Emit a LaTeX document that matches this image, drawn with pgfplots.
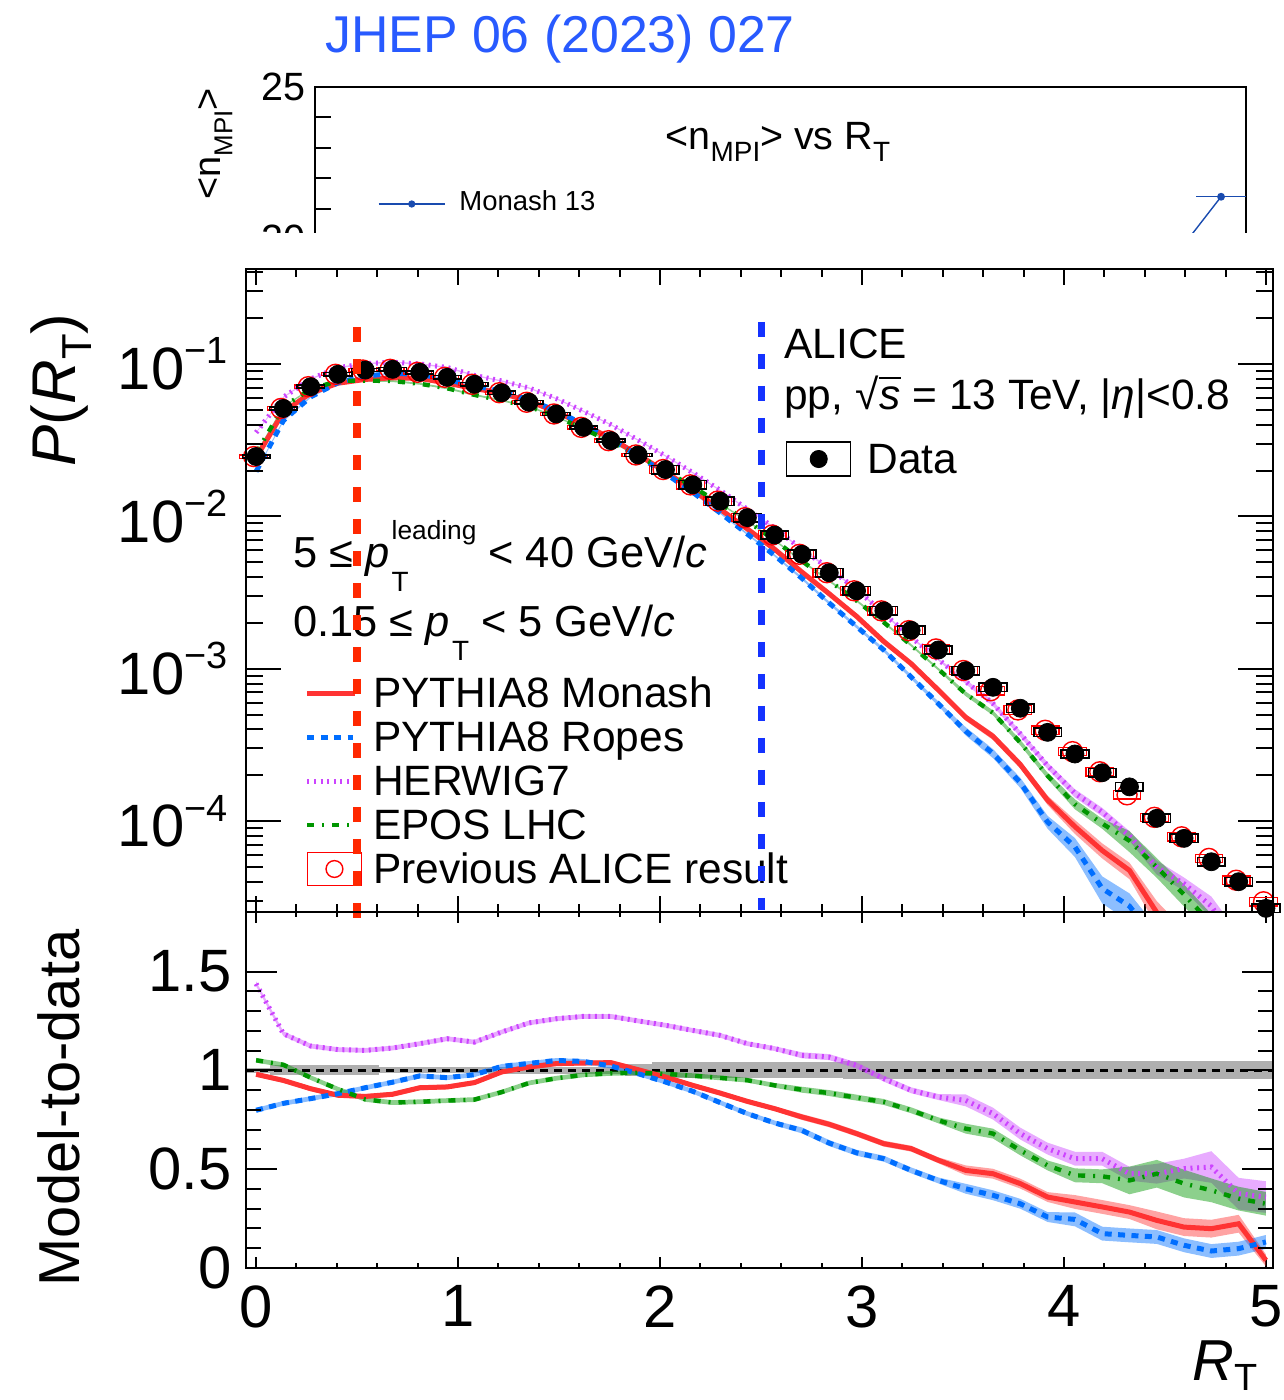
\documentclass[border=0pt]{standalone}
\usepackage{fontspec}
\setmainfont{Liberation Sans}
\usepackage{pgfplots}
\pgfplotsset{compat=1.18}
\usepackage{pgfplotstable}

\definecolor{cMon}{RGB}{255,51,51}
\definecolor{cRop}{RGB}{0,110,255}
\definecolor{cHer}{RGB}{204,68,255}
\definecolor{cEpo}{RGB}{0,150,0}
\definecolor{cLow}{RGB}{255,40,0}
\definecolor{cHigh}{RGB}{20,50,255}
\definecolor{cSys}{RGB}{175,175,175}
\definecolor{cJhep}{RGB}{40,90,255}
\definecolor{cMpi}{RGB}{25,75,175}

% systematic-uncertainty boxes (one bin wide)
\pgfdeclareplotmark{sysS}{\pgfpathrectangle{\pgfpoint{-6.9bp}{-0.8bp}}{\pgfpoint{13.8bp}{1.6bp}}\pgfusepathqstroke}
\pgfdeclareplotmark{sysL}{\pgfpathrectangle{\pgfpoint{-6.9bp}{-2.1bp}}{\pgfpoint{13.8bp}{4.2bp}}\pgfusepathqstroke}

% x: R_T bin centre, xp: previous result bin centre, d: data, p: previous ALICE result,
% s: data uncertainty on the ratio
\pgfplotstableread{
x xp d p s
0.0000 -0.012 0.0247 0.0247 0.012
0.1351 0.1231 0.0511 0.0511 0.025
0.2703 0.2583 0.0710 0.0710 0.025
0.4054 0.3934 0.0856 0.0856 0.025
0.5405 0.5285 0.0913 0.0913 0.025
0.6757 0.6637 0.0923 0.0923 0.015
0.8108 0.7988 0.0882 0.0882 0.015
0.9459 0.9339 0.0818 0.0818 0.015
1.0811 1.0691 0.0736 0.0736 0.015
1.2162 1.2042 0.0648 0.0648 0.017
1.3514 1.3394 0.0561 0.0561 0.017
1.4865 1.4745 0.0470 0.0470 0.017
1.6216 1.6096 0.0384 0.0384 0.017
1.7568 1.7448 0.0314 0.0314 0.017
1.8919 1.8799 0.0253 0.0253 0.030
2.0270 2.0150 0.0203 0.0203 0.040
2.1622 2.1502 0.0161 0.0161 0.040
2.2973 2.2853 0.0126 0.0126 0.040
2.4324 2.4204 0.00981 0.00981 0.040
2.5676 2.5556 0.00755 0.00755 0.040
2.7027 2.6907 0.00564 0.00564 0.040
2.8378 2.8258 0.00427 0.00427 0.040
2.9730 2.9610 0.00325 0.00325 0.045
3.1081 3.0961 0.00240 0.00240 0.045
3.2432 3.2312 0.00179 0.00178 0.045
3.3784 3.3664 0.00133 0.00135 0.045
3.5135 3.5015 0.000972 0.000975 0.045
3.6486 3.6366 0.000756 0.000718 0.045
3.7838 3.7718 0.000551 0.000537 0.045
3.9189 3.9069 0.000383 0.000395 0.045
4.0541 4.0421 0.000276 0.000286 0.045
4.1892 4.1772 0.000208 0.000211 0.045
4.3243 4.3123 0.000168 0.000149 0.045
4.4595 4.4475 0.0001045 0.000106 0.045
4.5946 4.5826 0.0000772 0.000079 0.045
4.7297 4.7177 0.0000542 0.000057 0.045
4.8649 4.8529 0.0000401 0.000041 0.045
5.0000 4.9880 0.0000268 0.0000296 0.045
}\rt

% model-to-data ratios (rm Monash, rr Ropes, rh HERWIG7, re EPOS LHC) with their
% uncertainties; rows 0-37 run up in R_T, rows 38-75 run back down with the
% uncertainty negated, so that one path outlines each band
\pgfplotstableread{
x d rm em rr er rh eh re ee
0.0000 0.0247 0.980 0.012 0.798 0.012 1.438 0.012 1.051 0.012
0.1351 0.0511 0.949 0.012 0.833 0.012 1.185 0.012 1.028 0.012
0.2703 0.0710 0.907 0.012 0.857 0.012 1.123 0.012 0.963 0.012
0.4054 0.0856 0.874 0.012 0.882 0.012 1.105 0.012 0.905 0.012
0.5405 0.0913 0.868 0.012 0.912 0.012 1.101 0.012 0.853 0.012
0.6757 0.0923 0.879 0.012 0.940 0.012 1.113 0.012 0.837 0.012
0.8108 0.0882 0.912 0.012 0.972 0.012 1.135 0.012 0.841 0.012
0.9459 0.0818 0.916 0.012 0.963 0.012 1.160 0.012 0.847 0.012
1.0811 0.0736 0.938 0.012 0.978 0.012 1.143 0.012 0.852 0.012
1.2162 0.0648 0.992 0.012 1.020 0.012 1.194 0.012 0.890 0.012
1.3514 0.0561 1.017 0.012 1.035 0.012 1.240 0.012 0.936 0.012
1.4865 0.0470 1.034 0.012 1.050 0.012 1.261 0.012 0.960 0.012
1.6216 0.0384 1.037 0.012 1.045 0.012 1.273 0.012 0.977 0.012
1.7568 0.0314 1.039 0.012 1.022 0.012 1.273 0.012 0.985 0.012
1.8919 0.0253 1.003 0.012 0.983 0.012 1.250 0.012 0.988 0.012
2.0270 0.0203 0.966 0.012 0.941 0.012 1.228 0.012 0.982 0.012
2.1622 0.0161 0.924 0.012 0.894 0.012 1.202 0.012 0.973 0.012
2.2973 0.0126 0.885 0.012 0.837 0.012 1.177 0.012 0.962 0.012
2.4324 0.00981 0.843 0.012 0.781 0.012 1.135 0.012 0.950 0.012
2.5676 0.00755 0.806 0.012 0.734 0.012 1.110 0.012 0.924 0.012
2.7027 0.00564 0.764 0.015 0.696 0.015 1.076 0.015 0.902 0.015
2.8378 0.00427 0.727 0.015 0.632 0.015 1.067 0.015 0.885 0.015
2.9730 0.00325 0.680 0.015 0.583 0.015 1.025 0.015 0.862 0.015
3.1081 0.00240 0.629 0.015 0.553 0.015 0.958 0.015 0.840 0.015
3.2432 0.00179 0.604 0.015 0.494 0.015 0.899 0.015 0.798 0.015
3.3784 0.00133 0.545 0.015 0.443 0.015 0.865 0.015 0.747 0.015
3.5135 0.000972 0.494 0.025 0.401 0.025 0.848 0.030 0.705 0.025
3.6486 0.000756 0.477 0.025 0.368 0.025 0.781 0.030 0.680 0.025
3.7838 0.000551 0.427 0.025 0.325 0.025 0.680 0.030 0.595 0.025
3.9189 0.000383 0.359 0.025 0.258 0.025 0.604 0.030 0.519 0.025
4.0541 0.000276 0.334 0.035 0.246 0.035 0.553 0.035 0.469 0.035
4.1892 0.000208 0.309 0.035 0.174 0.035 0.553 0.035 0.464 0.035
4.3243 0.000168 0.283 0.035 0.165 0.035 0.477 0.035 0.443 0.070
4.4595 0.0001045 0.241 0.045 0.157 0.035 0.477 0.050 0.477 0.070
4.5946 0.0000772 0.207 0.045 0.115 0.035 0.503 0.050 0.427 0.070
4.7297 0.0000542 0.199 0.045 0.086 0.035 0.511 0.080 0.393 0.060
4.8649 0.0000401 0.224 0.045 0.098 0.035 0.376 0.080 0.351 0.060
5.0000 0.0000268 0.039 0.030 0.132 0.035 0.359 0.080 0.325 0.060
5.0000 0.0000268 0.039 -0.030 0.132 -0.035 0.359 -0.080 0.325 -0.060
4.8649 0.0000401 0.224 -0.045 0.098 -0.035 0.376 -0.080 0.351 -0.060
4.7297 0.0000542 0.199 -0.045 0.086 -0.035 0.511 -0.080 0.393 -0.060
4.5946 0.0000772 0.207 -0.045 0.115 -0.035 0.503 -0.050 0.427 -0.070
4.4595 0.0001045 0.241 -0.045 0.157 -0.035 0.477 -0.050 0.477 -0.070
4.3243 0.000168 0.283 -0.035 0.165 -0.035 0.477 -0.035 0.443 -0.070
4.1892 0.000208 0.309 -0.035 0.174 -0.035 0.553 -0.035 0.464 -0.035
4.0541 0.000276 0.334 -0.035 0.246 -0.035 0.553 -0.035 0.469 -0.035
3.9189 0.000383 0.359 -0.025 0.258 -0.025 0.604 -0.030 0.519 -0.025
3.7838 0.000551 0.427 -0.025 0.325 -0.025 0.680 -0.030 0.595 -0.025
3.6486 0.000756 0.477 -0.025 0.368 -0.025 0.781 -0.030 0.680 -0.025
3.5135 0.000972 0.494 -0.025 0.401 -0.025 0.848 -0.030 0.705 -0.025
3.3784 0.00133 0.545 -0.015 0.443 -0.015 0.865 -0.015 0.747 -0.015
3.2432 0.00179 0.604 -0.015 0.494 -0.015 0.899 -0.015 0.798 -0.015
3.1081 0.00240 0.629 -0.015 0.553 -0.015 0.958 -0.015 0.840 -0.015
2.9730 0.00325 0.680 -0.015 0.583 -0.015 1.025 -0.015 0.862 -0.015
2.8378 0.00427 0.727 -0.015 0.632 -0.015 1.067 -0.015 0.885 -0.015
2.7027 0.00564 0.764 -0.015 0.696 -0.015 1.076 -0.015 0.902 -0.015
2.5676 0.00755 0.806 -0.012 0.734 -0.012 1.110 -0.012 0.924 -0.012
2.4324 0.00981 0.843 -0.012 0.781 -0.012 1.135 -0.012 0.950 -0.012
2.2973 0.0126 0.885 -0.012 0.837 -0.012 1.177 -0.012 0.962 -0.012
2.1622 0.0161 0.924 -0.012 0.894 -0.012 1.202 -0.012 0.973 -0.012
2.0270 0.0203 0.966 -0.012 0.941 -0.012 1.228 -0.012 0.982 -0.012
1.8919 0.0253 1.003 -0.012 0.983 -0.012 1.250 -0.012 0.988 -0.012
1.7568 0.0314 1.039 -0.012 1.022 -0.012 1.273 -0.012 0.985 -0.012
1.6216 0.0384 1.037 -0.012 1.045 -0.012 1.273 -0.012 0.977 -0.012
1.4865 0.0470 1.034 -0.012 1.050 -0.012 1.261 -0.012 0.960 -0.012
1.3514 0.0561 1.017 -0.012 1.035 -0.012 1.240 -0.012 0.936 -0.012
1.2162 0.0648 0.992 -0.012 1.020 -0.012 1.194 -0.012 0.890 -0.012
1.0811 0.0736 0.938 -0.012 0.978 -0.012 1.143 -0.012 0.852 -0.012
0.9459 0.0818 0.916 -0.012 0.963 -0.012 1.160 -0.012 0.847 -0.012
0.8108 0.0882 0.912 -0.012 0.972 -0.012 1.135 -0.012 0.841 -0.012
0.6757 0.0923 0.879 -0.012 0.940 -0.012 1.113 -0.012 0.837 -0.012
0.5405 0.0913 0.868 -0.012 0.912 -0.012 1.101 -0.012 0.853 -0.012
0.4054 0.0856 0.874 -0.012 0.882 -0.012 1.105 -0.012 0.905 -0.012
0.2703 0.0710 0.907 -0.012 0.857 -0.012 1.123 -0.012 0.963 -0.012
0.1351 0.0511 0.949 -0.012 0.833 -0.012 1.185 -0.012 1.028 -0.012
0.0000 0.0247 0.980 -0.012 0.798 -0.012 1.438 -0.012 1.051 -0.012
}\mt

\pgfplotsset{
  rootframe/.style={scale only axis, xmin=-0.05, xmax=5.035, tick align=inside,
    axis line style={line width=1.1bp}, tick style={black, line width=1bp},
    tick label style={font=\fontsize{30}{30}\selectfont}},
  fwd/.style={forget plot, skip coords between index={38}{76}},
  monL/.style={fwd, cMon, line width=2.5bp},
  ropL/.style={fwd, cRop, line width=2.5bp, dash pattern=on 3.5bp off 3.2bp},
  herL/.style={fwd, cHer, line width=2.5bp, dash pattern=on 1bp off 2.3bp},
  epoL/.style={fwd, cEpo, line width=2.2bp, dash pattern=on 3.5bp off 4bp on 1bp off 4bp},
  band/.style={fill=#1, fill opacity=0.45, draw=none, forget plot},
}

\newcommand\subT{\raisebox{-12bp}{\fontsize{14}{14}\selectfont T}}

\begin{document}
\begin{tikzpicture}
\path[use as bounding box] (0,0) rectangle (642bp,-700bp);

% ---------- inset: <n_MPI> vs R_T ----------
\begin{axis}[scale only axis, at={(157.5bp,-127.1bp)}, anchor=south west,
  width=465.5bp, height=83.6bp, xmin=0, xmax=5, ymin=19.5, ymax=25,
  xtick=\empty, ytick={20,25}, yticklabels={20,25}, minor y tick num=4,
  ytick pos=left, tick align=inside, major tick length=15bp, minor tick length=8bp,
  axis line style={line width=1bp}, tick style={black, line width=0.9bp},
  yticklabel style={font=\fontsize{19.8}{20}\selectfont, inner sep=0pt, xshift=-4.5bp},
  legend style={at={(0.0677,0.378)}, anchor=north west, draw=none, fill=none,
    inner sep=0pt, outer sep=0pt, column sep=7bp, font=\fontsize{13.8}{14}\selectfont,
    nodes={inner sep=0pt, text height=10bp, text depth=3bp}},
  legend cell align=left]
\addplot[cMpi, line width=0.7bp, mark=*, mark size=1.6bp, forget plot,
  error bars/.cd, x dir=both, x explicit, error mark=none,
  error bar style={line width=0.7bp}]
  coordinates {(4.595,19.25) +- (0.135,0) (4.866,21.39) +- (0.134,0)};
\addlegendimage{legend image code/.code={\draw[cMpi, line width=0.7bp] (0bp,0bp) -- (33bp,0bp); \fill[cMpi] (16.5bp,0bp) circle (1.6bp);}}
\addlegendentry{Monash 13}
\end{axis}
\begin{scope}[x=0.5bp, y=-0.5bp]
\fill[white] (150,233) rectangle (1284,264);
\node[anchor=base west, inner sep=0pt, text=cJhep, font=\fontsize{26}{26}\selectfont] at (325,52) {JHEP 06 (2023) 027};
\node[rotate=90, anchor=base, inner sep=0pt, font=\fontsize{19}{19}\selectfont] at (221,144) {<n\raisebox{-0.3em}{\fontsize{13}{13}\selectfont MPI}>};
\node[anchor=base, inner sep=0pt, font=\fontsize{19.8}{20}\selectfont] at (778,150) {<n\raisebox{-0.3em}{\fontsize{14}{14}\selectfont MPI}> vs R\raisebox{-0.3em}{\fontsize{14}{14}\selectfont T}};
\end{scope}

% ---------- upper panel: P(R_T) ----------
\begin{axis}[rootframe, at={(123bp,-456bp)}, anchor=south west,
  width=513.5bp, height=321.5bp, ymode=log, ymin=2.536e-5, ymax=0.42,
  ytick=\empty, xtick={0,1,2,3,4,5}, minor x tick num=4, xticklabels=\empty,
  major tick length=8bp, minor tick length=4bp,
  legend style={at={(0.0574,0.3686)}, anchor=north west, draw=none, fill=none,
    inner sep=0pt, outer sep=0pt, row sep=4bp, column sep=5.5bp,
    font=\fontsize{21.3}{22}\selectfont,
    nodes={inner sep=0pt, text height=16bp, text depth=2bp}},
  legend cell align=left]
% model uncertainty bands
\addplot[band=cMon] table[x=x, y expr=\thisrow{d}*(\thisrow{rm}+\thisrow{em})]{\mt};
\addplot[band=cRop] table[x=x, y expr=\thisrow{d}*(\thisrow{rr}+\thisrow{er})]{\mt};
\addplot[band=cHer] table[x=x, y expr=\thisrow{d}*(\thisrow{rh}+\thisrow{eh})]{\mt};
\addplot[band=cEpo] table[x=x, y expr=\thisrow{d}*(\thisrow{re}+\thisrow{ee})]{\mt};
% model curves
\addplot[monL] table[x=x, y expr=\thisrow{d}*\thisrow{rm}]{\mt};
\addplot[ropL] table[x=x, y expr=\thisrow{d}*\thisrow{rr}]{\mt};
\addplot[herL] table[x=x, y expr=\thisrow{d}*\thisrow{rh}]{\mt};
\addplot[epoL] table[x=x, y expr=\thisrow{d}*\thisrow{re}]{\mt};
% previous ALICE result
\addplot[only marks, mark=sysS, red, line width=0.6bp, forget plot, skip coords between index={15}{38}] table[x=xp, y=p]{\rt};
\addplot[only marks, mark=sysL, red, line width=0.6bp, forget plot, skip coords between index={0}{15}] table[x=xp, y=p]{\rt};
\addplot[only marks, mark=o, mark size=5bp, red, line width=0.7bp, forget plot] table[x=xp, y=p]{\rt};
% data
\addplot[only marks, mark=sysS, black, line width=0.8bp, forget plot, skip coords between index={15}{38}] table[x=x, y=d]{\rt};
\addplot[only marks, mark=sysL, black, line width=0.8bp, forget plot, skip coords between index={0}{15}] table[x=x, y=d]{\rt};
\addplot[only marks, mark=*, mark size=4.5bp, black, forget plot] table[x=x, y=d]{\rt};
% legend
\addlegendimage{legend image code/.code={\draw[cMon, line width=2.5bp] (0bp,0bp) -- (24bp,0bp);}}
\addlegendentry{PYTHIA8 Monash}
\addlegendimage{legend image code/.code={\draw[cRop, line width=2.5bp, dash pattern=on 3.5bp off 3.2bp] (0bp,0bp) -- (23bp,0bp);}}
\addlegendentry{PYTHIA8 Ropes}
\addlegendimage{legend image code/.code={\draw[cHer, line width=2.5bp, dash pattern=on 1bp off 2.3bp] (0bp,0bp) -- (21bp,0bp);}}
\addlegendentry{HERWIG7}
\addlegendimage{legend image code/.code={\draw[cEpo, line width=2.2bp, dash pattern=on 3.5bp off 4bp on 1bp off 4bp] (0bp,0bp) -- (21bp,0bp);}}
\addlegendentry{EPOS LHC}
\addlegendimage{legend image code/.code={\draw[red, line width=0.6bp] (0bp,-8.25bp) rectangle (27bp,8.25bp); \draw[red, line width=0.7bp] (13.5bp,0bp) circle (4.2bp);}}
\addlegendentry{Previous ALICE result}
\end{axis}

% labels inside the upper panel
\begin{scope}[x=0.5bp, y=-0.5bp]
\node[anchor=base west, inner sep=0pt, font=\fontsize{21.3}{22}\selectfont] at (784,359) {ALICE};
\node[anchor=base west, inner sep=0pt, font=\fontsize{21.3}{22}\selectfont] at (784,410)
  {pp, √\kern0.5bp\setbox0\hbox{\textit{s}}\rlap{\raisebox{0.72em}{\rule{\wd0}{0.06em}}}\box0\ = 13 TeV, |\textit{η}|<0.8};
\node[anchor=base west, inner sep=0pt, font=\fontsize{21.8}{22}\selectfont] at (293,568)
  {5 ≤ \textit{p}\kern1bp\rlap{\raisebox{14bp}{\fontsize{13.2}{14}\selectfont leading}}\rlap{\subT}\hphantom{\fontsize{13.2}{14}\selectfont leading} < 40 GeV/\textit{c}};
\node[anchor=base west, inner sep=0pt, font=\fontsize{21.8}{22}\selectfont] at (293,637)
  {0.15 ≤ \textit{p}\kern1bp\subT\ < 5 GeV/\textit{c}};
\node[rotate=90, anchor=base, inner sep=0pt, font=\fontsize{31}{31}\selectfont] at (76,390)
  {\textit{P}(\textit{R}\raisebox{-0.25em}{\fontsize{21}{21}\selectfont T})};
\end{scope}

% y ticks, R_T markers and data legend of the upper panel
\begin{axis}[rootframe, at={(123bp,-456bp)}, anchor=south west,
  width=513.5bp, height=321.5bp, ymode=log, ymin=2.536e-5, ymax=0.42,
  xtick=\empty, ytick={1e-4,1e-3,1e-2,1e-1},
  yticklabels={{10\raisebox{0.43em}{\fontsize{19}{19}\selectfont −4}},{10\raisebox{0.43em}{\fontsize{19}{19}\selectfont −3}},{10\raisebox{0.43em}{\fontsize{19}{19}\selectfont −2}},{10\raisebox{0.43em}{\fontsize{19}{19}\selectfont −1}}},
  minor ytick={3e-5,4e-5,5e-5,6e-5,7e-5,8e-5,9e-5,2e-4,3e-4,4e-4,5e-4,6e-4,7e-4,8e-4,9e-4,2e-3,3e-3,4e-3,5e-3,6e-3,7e-3,8e-3,9e-3,2e-2,3e-2,4e-2,5e-2,6e-2,7e-2,8e-2,9e-2,0.2,0.3,0.4},
  major tick length=17.5bp, minor tick length=8.5bp,
  yticklabel style={inner sep=0pt, xshift=-9bp},
  legend style={at={(0.5258,0.7325)}, anchor=north west, draw=none, fill=none,
    inner sep=0pt, outer sep=0pt, column sep=8bp, font=\fontsize{21.3}{22}\selectfont,
    nodes={inner sep=0pt, text height=16bp, text depth=2bp}},
  legend cell align=left]
\addplot[cLow, line width=3.8bp, dash pattern=on 7.5bp off 8.5bp, forget plot] coordinates {(0.5,0.175) (0.5,2.536e-5)};
\addplot[cHigh, line width=3.5bp, dash pattern=on 7.5bp off 8.5bp, forget plot] coordinates {(2.5,0.1887) (2.5,2.6e-5)};
\addlegendimage{legend image code/.code={\draw[black, line width=0.7bp] (0bp,-8.5bp) rectangle (32bp,8.5bp); \fill[black] (16bp,0bp) circle (4.3bp);}}
\addlegendentry{Data}
\end{axis}

% ---------- lower panel: model-to-data ----------
\begin{axis}[rootframe, at={(123bp,-634bp)}, anchor=south west,
  width=513.5bp, height=177.9bp, ymin=0, ymax=1.8,
  ytick=\empty, xtick={0,1,2,3,4,5}, minor x tick num=4, xticklabels={0,1,2,3,4,5},
  major tick length=5.5bp, minor tick length=2.5bp,
  xticklabel style={inner sep=0pt, yshift=-8.5bp}]
% data uncertainty, one box per bin
\addplot[cSys, line width=0.5bp, mark=none, forget plot, error bars/.cd, y dir=both, y explicit,
  error mark=none, error bar style={cSys, line width=13.7bp}]
  table[x=x, y expr=1, y error=s]{\rt};
\addplot[black, line width=1.5bp, dash pattern=on 4bp off 3bp, forget plot] coordinates {(-0.05,1) (5.035,1)};
\addplot[band=cMon] table[x=x, y expr=\thisrow{rm}+\thisrow{em}]{\mt};
\addplot[band=cRop] table[x=x, y expr=\thisrow{rr}+\thisrow{er}]{\mt};
\addplot[band=cHer] table[x=x, y expr=\thisrow{rh}+\thisrow{eh}]{\mt};
\addplot[band=cEpo] table[x=x, y expr=\thisrow{re}+\thisrow{ee}]{\mt};
\addplot[monL] table[x=x, y=rm]{\mt};
\addplot[ropL] table[x=x, y=rr]{\mt};
\addplot[herL] table[x=x, y=rh]{\mt};
\addplot[epoL] table[x=x, y=re]{\mt};
\addplot[cLow, line width=3.8bp, forget plot] coordinates {(0.5,1.8) (0.5,1.77)};
\end{axis}
\begin{axis}[rootframe, at={(123bp,-634bp)}, anchor=south west,
  width=513.5bp, height=177.9bp, ymin=0, ymax=1.8,
  xtick=\empty, ytick={0,0.5,1,1.5}, yticklabels={0,0.5,1,1.5}, minor y tick num=4,
  major tick length=15.5bp, minor tick length=7.5bp,
  yticklabel style={inner sep=0pt, xshift=-7bp}]
\end{axis}

\begin{scope}[x=0.5bp, y=-0.5bp]
\node[rotate=90, anchor=base, inner sep=0pt, font=\fontsize{29}{29}\selectfont] at (80,1108) {Model-to-data};
\node[anchor=base west, inner sep=0pt, font=\fontsize{29}{29}\selectfont] at (1192,1381)
  {\textit{R}\raisebox{-0.16em}{\fontsize{19}{19}\selectfont T}};
\end{scope}
\end{tikzpicture}
\end{document}
